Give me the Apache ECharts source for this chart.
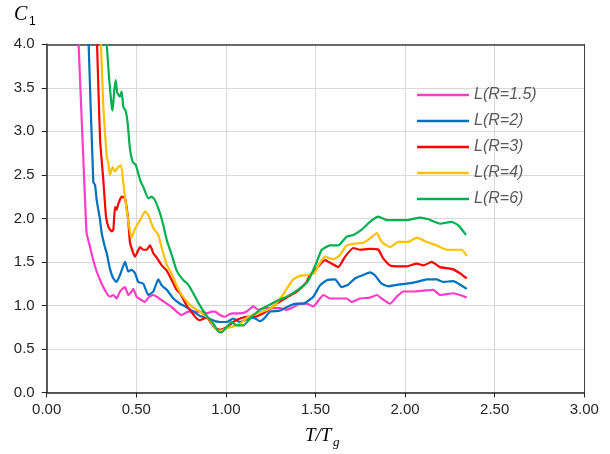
<!DOCTYPE html>
<html>
<head>
<meta charset="utf-8">
<script src="https://cdn.jsdelivr.net/npm/echarts@6/dist/echarts.min.js"></script>
<style>
  html, body { margin: 0; padding: 0; background: #fff; }
  #chart { width: 610px; height: 454px; }
</style>
</head>
<body>
<div id="chart"></div>
<script>
// T/Tg and C1, one pair of arrays per curve
const seriesNames = ['L(R=1.5)', 'L(R=2)', 'L(R=3)', 'L(R=4)', 'L(R=6)'];
const seriesColors = ['#FF3CC8', '#0070C0', '#FF0000', '#FFC000', '#00B050'];

const r15T = [0.178, 0.214, 0.223, 0.242, 0.26, 0.279, 0.307, 0.335, 0.353, 0.372, 0.39, 0.409, 0.428, 0.437, 0.455, 0.474, 0.483, 0.502, 0.53, 0.549, 0.567, 0.595, 0.614, 0.642, 0.67, 0.698, 0.725, 0.753, 0.772, 0.79, 0.818, 0.855, 0.893, 0.921, 0.939, 0.967, 0.995, 1.02, 1.041, 1.079, 1.116, 1.153, 1.181, 1.218, 1.265, 1.302, 1.339, 1.376, 1.413, 1.451, 1.488, 1.525, 1.544, 1.581, 1.63, 1.674, 1.702, 1.748, 1.804, 1.842, 1.869, 1.916, 1.953, 1.99, 2.046, 2.102, 2.157, 2.195, 2.232, 2.269, 2.306, 2.344];
const r15C = [4.0, 2.21, 1.83, 1.67, 1.52, 1.39, 1.25, 1.14, 1.10, 1.12, 1.08, 1.16, 1.20, 1.21, 1.12, 1.16, 1.19, 1.10, 1.06, 1.04, 1.09, 1.12, 1.10, 1.06, 1.02, 0.98, 0.93, 0.89, 0.91, 0.93, 0.93, 0.93, 0.91, 0.93, 0.93, 0.89, 0.87, 0.90, 0.91, 0.91, 0.93, 0.99, 0.95, 0.97, 0.97, 0.97, 0.95, 0.98, 1.02, 1.02, 0.99, 1.08, 1.12, 1.08, 1.08, 1.08, 1.04, 1.08, 1.09, 1.12, 1.08, 1.02, 1.10, 1.16, 1.16, 1.17, 1.18, 1.12, 1.13, 1.14, 1.12, 1.09];

const r2T = [0.234, 0.26, 0.27, 0.279, 0.298, 0.307, 0.325, 0.335, 0.353, 0.372, 0.39, 0.409, 0.437, 0.455, 0.474, 0.493, 0.511, 0.539, 0.567, 0.595, 0.623, 0.642, 0.67, 0.707, 0.744, 0.781, 0.818, 0.855, 0.893, 0.939, 0.967, 1.004, 1.041, 1.079, 1.116, 1.153, 1.19, 1.218, 1.246, 1.302, 1.358, 1.395, 1.432, 1.488, 1.525, 1.563, 1.609, 1.646, 1.683, 1.72, 1.767, 1.804, 1.83, 1.869, 1.906, 1.962, 2.009, 2.065, 2.121, 2.176, 2.213, 2.269, 2.306, 2.344];
const r2C = [4.0, 2.42, 2.38, 2.21, 1.98, 1.83, 1.67, 1.60, 1.42, 1.31, 1.27, 1.35, 1.50, 1.39, 1.41, 1.37, 1.27, 1.25, 1.12, 1.16, 1.30, 1.23, 1.18, 1.08, 1.02, 0.98, 0.93, 0.88, 0.86, 0.82, 0.81, 0.81, 0.85, 0.81, 0.84, 0.86, 0.82, 0.86, 0.93, 0.94, 1.00, 1.02, 1.02, 1.10, 1.23, 1.29, 1.30, 1.21, 1.24, 1.31, 1.35, 1.38, 1.35, 1.25, 1.22, 1.24, 1.25, 1.27, 1.30, 1.30, 1.27, 1.28, 1.24, 1.19];

const r3T = [0.281, 0.298, 0.316, 0.331, 0.345, 0.363, 0.372, 0.381, 0.39, 0.4, 0.418, 0.437, 0.455, 0.465, 0.493, 0.521, 0.539, 0.558, 0.577, 0.595, 0.614, 0.642, 0.67, 0.698, 0.725, 0.744, 0.781, 0.809, 0.837, 0.855, 0.893, 0.921, 0.939, 0.967, 1.004, 1.041, 1.079, 1.116, 1.162, 1.209, 1.246, 1.283, 1.339, 1.395, 1.451, 1.469, 1.507, 1.553, 1.591, 1.627, 1.665, 1.711, 1.748, 1.804, 1.851, 1.878, 1.916, 1.971, 2.009, 2.065, 2.102, 2.148, 2.195, 2.26, 2.306, 2.344];
const r3C = [4.0, 2.90, 2.44, 2.02, 1.90, 1.85, 1.87, 2.13, 2.10, 2.17, 2.25, 2.23, 1.98, 1.72, 1.56, 1.67, 1.64, 1.64, 1.69, 1.60, 1.55, 1.46, 1.40, 1.29, 1.18, 1.14, 1.00, 0.92, 0.85, 0.83, 0.86, 0.79, 0.74, 0.72, 0.75, 0.81, 0.85, 0.87, 0.87, 0.91, 0.96, 1.02, 1.09, 1.16, 1.27, 1.35, 1.43, 1.52, 1.48, 1.44, 1.56, 1.66, 1.64, 1.65, 1.64, 1.54, 1.46, 1.45, 1.45, 1.48, 1.46, 1.50, 1.44, 1.42, 1.37, 1.31];

const r4T = [0.303, 0.316, 0.335, 0.344, 0.353, 0.368, 0.381, 0.4, 0.415, 0.428, 0.446, 0.465, 0.474, 0.493, 0.521, 0.549, 0.567, 0.595, 0.623, 0.642, 0.67, 0.698, 0.734, 0.772, 0.809, 0.837, 0.855, 0.893, 0.921, 0.939, 0.958, 0.976, 1.004, 1.041, 1.079, 1.125, 1.172, 1.218, 1.265, 1.311, 1.348, 1.376, 1.413, 1.46, 1.497, 1.516, 1.553, 1.6, 1.637, 1.674, 1.72, 1.767, 1.804, 1.842, 1.869, 1.916, 1.962, 2.018, 2.065, 2.121, 2.176, 2.232, 2.288, 2.316, 2.344];
const r4C = [4.0, 3.28, 2.71, 2.63, 2.50, 2.59, 2.54, 2.59, 2.61, 2.40, 2.10, 1.85, 1.78, 1.88, 1.98, 2.08, 2.04, 1.89, 1.81, 1.66, 1.47, 1.36, 1.19, 1.07, 0.99, 0.95, 0.93, 0.87, 0.80, 0.74, 0.71, 0.71, 0.74, 0.76, 0.79, 0.87, 0.91, 0.94, 0.99, 1.10, 1.22, 1.30, 1.34, 1.35, 1.38, 1.46, 1.56, 1.53, 1.58, 1.69, 1.71, 1.72, 1.77, 1.83, 1.73, 1.67, 1.73, 1.73, 1.78, 1.73, 1.69, 1.64, 1.64, 1.64, 1.57];

const r6T = [0.335, 0.349, 0.363, 0.368, 0.377, 0.385, 0.394, 0.409, 0.418, 0.428, 0.44, 0.452, 0.465, 0.48, 0.498, 0.521, 0.539, 0.567, 0.586, 0.604, 0.632, 0.651, 0.67, 0.698, 0.725, 0.763, 0.79, 0.818, 0.846, 0.893, 0.93, 0.958, 0.976, 1.004, 1.032, 1.06, 1.097, 1.144, 1.19, 1.246, 1.292, 1.339, 1.395, 1.451, 1.48, 1.507, 1.535, 1.581, 1.627, 1.674, 1.711, 1.758, 1.804, 1.851, 1.897, 1.953, 2.009, 2.083, 2.13, 2.195, 2.26, 2.297, 2.34];
const r6C = [4.0, 3.59, 3.28, 3.24, 3.47, 3.59, 3.44, 3.40, 3.46, 3.28, 3.24, 3.09, 2.79, 2.65, 2.61, 2.44, 2.36, 2.23, 2.25, 2.21, 2.06, 1.92, 1.75, 1.58, 1.40, 1.29, 1.24, 1.14, 1.03, 0.88, 0.79, 0.70, 0.69, 0.75, 0.81, 0.77, 0.77, 0.87, 0.95, 1.01, 1.06, 1.10, 1.17, 1.26, 1.37, 1.50, 1.64, 1.69, 1.69, 1.79, 1.81, 1.87, 1.96, 2.02, 1.98, 1.98, 1.98, 2.01, 1.99, 1.94, 1.96, 1.92, 1.81];

const xTicks = { min: 0, max: 3, interval: 0.5 };
const yTicks = { min: 0, max: 4, interval: 0.5 };

const curves = [[r15T, r15C], [r2T, r2C], [r3T, r3C], [r4T, r4C], [r6T, r6C]];

const chart = echarts.init(document.getElementById('chart'), null, { renderer: 'canvas' });

const axisText = { color: '#262626', fontFamily: 'Liberation Sans, Arial', fontSize: 15 };

const option = {
  animation: false,
  backgroundColor: '#fff',
  grid: { left: 46.7, right: 25.7, top: 44.3, bottom: 61.5, containLabel: false },
  legend: {
    orient: 'vertical',
    left: 417,
    top: 82,
    padding: 0,
    icon: 'rect',
    itemWidth: 52,
    itemHeight: 2.5,
    itemGap: 0,
    data: seriesNames,
    textStyle: { color: '#595959', fontFamily: 'Liberation Sans, Arial', fontSize: 16, fontStyle: 'italic', lineHeight: 26 },
  },
  xAxis: [
    {
      type: 'value',
      min: xTicks.min, max: xTicks.max, interval: xTicks.interval,
      axisLine: { show: true, onZero: false, lineStyle: { color: '#262626', width: 1.5 } },
      axisTick: { show: true, inside: false, length: 5, lineStyle: { color: '#262626' } },
      axisLabel: { ...axisText, margin: 10, formatter: (v) => v.toFixed(2) },
      splitLine: { show: true, lineStyle: { color: '#d9d9d9', width: 1 } },
    },
    {
      type: 'value', position: 'top',
      min: xTicks.min, max: xTicks.max,
      axisLine: { show: true, onZero: false, lineStyle: { color: '#404040', width: 1.5 } },
      axisTick: { show: false }, axisLabel: { show: false }, splitLine: { show: false },
    },
  ],
  yAxis: [
    {
      type: 'value',
      min: yTicks.min, max: yTicks.max, interval: yTicks.interval,
      axisLine: { show: true, onZero: false, lineStyle: { color: '#262626', width: 1.5 } },
      axisTick: { show: true, inside: false, length: 5, lineStyle: { color: '#262626' } },
      axisLabel: { ...axisText, margin: 12, formatter: (v) => v.toFixed(1) },
      splitLine: { show: true, lineStyle: { color: '#d9d9d9', width: 1 } },
    },
    {
      type: 'value', position: 'right',
      min: yTicks.min, max: yTicks.max,
      axisLine: { show: true, onZero: false, lineStyle: { color: '#404040', width: 1 } },
      axisTick: { show: false }, axisLabel: { show: false }, splitLine: { show: false },
    },
  ],
  series: curves.map(([ts, cs], i) => ({
    name: seriesNames[i],
    type: 'line',
    data: ts.map((t, k) => [t, cs[k]]),
    symbol: 'none',
    smooth: 0.15,
    clip: true,
    color: seriesColors[i],
    lineStyle: { color: seriesColors[i], width: 2.2 },
  })),
  graphic: [
    { type: 'text', left: 14, top: 5, style: { text: 'C', fontFamily: 'Liberation Serif, Times New Roman', fontStyle: 'italic', fontSize: 20, fill: '#000' } },
    { type: 'text', left: 29, top: 16, style: { text: '1', fontFamily: 'Liberation Sans, Arial', fontSize: 12, fill: '#000' } },
    { type: 'text', left: 305, top: 426, style: { text: 'T/T', fontFamily: 'Liberation Serif, Times New Roman', fontStyle: 'italic', fontSize: 19, fill: '#000' } },
    { type: 'text', left: 333, top: 436, style: { text: 'g', fontFamily: 'Liberation Serif, Times New Roman', fontStyle: 'italic', fontSize: 13, fill: '#000' } },
  ],
};

chart.setOption(option);
</script>
</body>
</html>
